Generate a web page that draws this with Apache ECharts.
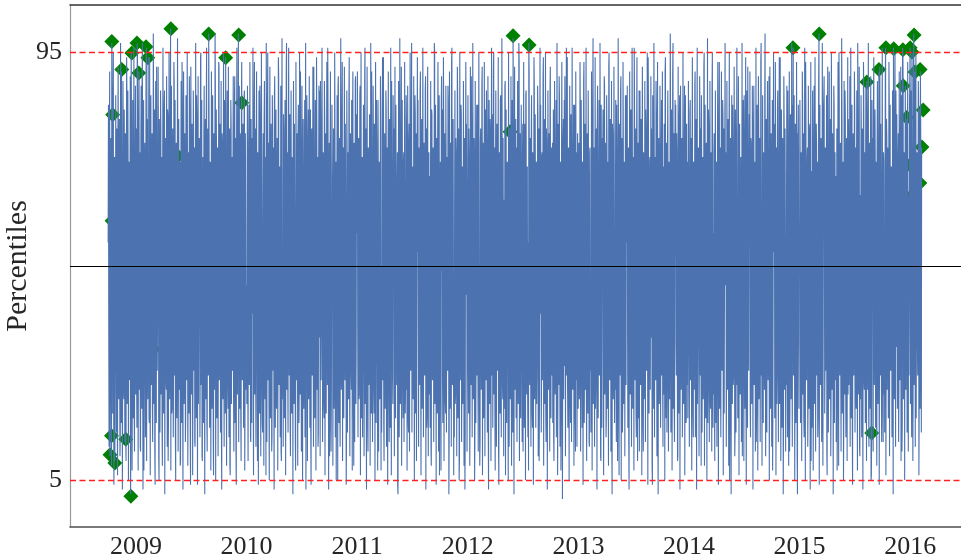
<!DOCTYPE html>
<html>
<head>
<meta charset="utf-8">
<script src="https://cdn.jsdelivr.net/npm/echarts@6/dist/echarts.min.js"></script>
<style>
  html, body { margin: 0; padding: 0; background: #ffffff; }
  #chart { width: 961px; height: 557px; }
</style>
</head>
<body>
<div id="chart"></div>
<script>
// Daily percentile readings. Each yearly block is stored as two interleaved
// sequences: "A" holds days 0, 2, 4, ... of the block, "B" holds days 1, 3, 5, ...

const pct2008A = [55, 38, 71, 10, 44, 30, 97, 82, 60, 25, 47, 9, 36, 68, 52, 19, 74, 41, 63, 28,
  15, 57, 91, 49, 33, 72, 22, 66, 40, 14, 58, 85, 35, 70, 45, 26, 61, 2, 95, 50,
  31, 78, 43, 18, 64, 88];
const pct2008B = [84, 12, 91, 25, 77, 8, 88, 19, 95, 4, 73, 27, 86, 15, 79, 6, 92, 22, 81, 10,
  97, 17, 75, 3, 89, 24, 83, 13, 78, 9, 94, 21, 87, 5, 72, 26, 90, 14, 80, 7,
  85, 18, 96, 11, 76, 23];

const pct2009A = [48, 27, 97, 63, 35, 91, 54, 12, 76, 42, 88, 31, 59, 7, 69, 44, 23, 96, 81, 38,
  94, 52, 17, 38, 73, 46, 61, 20, 33, 85, 57, 11, 66, 40, 92, 28, 50, 74, 5, 62,
  36, 79, 45, 16, 70, 53, 29, 87, 41, 64, 24, 58, 83, 9, 47, 71, 34, 100, 60, 19,
  67, 43, 30, 89, 55, 14, 72, 37, 49, 73, 26, 81, 51, 8, 65, 39, 93, 22, 56, 75,
  32, 60, 18, 84, 46, 68, 25, 53, 90, 37, 4, 70, 44, 62, 27, 79, 50, 13, 66, 35,
  86, 42, 57, 21, 74, 48, 31, 95, 61, 10, 54, 39, 77, 28, 65, 45, 82, 17, 58, 34,
  99, 56, 23, 69, 40, 76, 30, 52, 6, 63, 47, 88, 36, 71, 19, 58, 43, 92, 26, 67,
  51, 15, 78, 38, 60, 33, 85, 47, 94, 29, 55, 72, 20, 41, 64, 8, 57, 80, 35, 49,
  68, 24, 53, 90, 39, 12, 74, 45, 61, 99, 32, 56, 78, 18, 84, 50, 27, 66, 43, 87,
  22, 59, 37];
const pct2009B = [79, 16, 93, 7, 82, 24, 74, 11, 88, 20, 97, 3, 85, 27, 76, 14, 91, 9, 80, 22,
  72, 18, 94, 6, 86, 25, 78, 13, 99, 21, 83, 4, 89, 17, 75, 28, 92, 10, 81, 15,
  87, 23, 73, 8, 96, 19, 84, 2, 77, 26, 90, 12, 82, 16, 95, 22, 74, 7, 88, 20,
  79, 14, 93, 27, 85, 5, 76, 18, 98, 11, 81, 24, 72, 9, 89, 17, 84, 3, 91, 21,
  78, 13, 86, 26, 95, 8, 74, 19, 83, 15, 92, 23, 80, 6, 87, 28, 75, 12, 97, 18,
  82, 4, 90, 21, 77, 14, 94, 25, 85, 9, 73, 17, 88, 2, 81, 22, 96, 11, 79, 27,
  84, 16, 72, 7, 91, 20, 86, 13, 78, 24, 99, 5, 83, 18, 75, 10, 93, 26, 80, 15,
  89, 3, 76, 22, 95, 12, 82, 19, 74, 8, 87, 25, 92, 14, 79, 6, 85, 21, 73, 28,
  90, 11, 84, 17, 77, 4, 96, 23, 81, 13, 88, 20, 75, 9, 93, 26, 80, 16, 86, 7,
  78, 24];

const pct2010A = [46, 71, 29, 58, 84, 35, 62, 13, 49, 77, 40, 24, 67, 93, 52, 31, 74, 56, 9, 43,
  65, 38, 88, 27, 54, 72, 17, 60, 45, 81, 33, 51, 6, 69, 41, 95, 58, 22, 76, 36,
  63, 48, 14, 79, 55, 30, 86, 42, 67, 21, 53, 73, 37, 90, 26, 61, 44, 11, 70, 50,
  34, 82, 57, 19, 66, 47, 97, 39, 28, 74, 52, 63, 16, 45, 87, 32, 59, 71, 24, 80,
  43, 7, 62, 54, 36, 78, 49, 25, 68, 91, 40, 57, 20, 73, 46, 30, 85, 61, 3, 55,
  69, 38, 83, 27, 50, 64, 15, 75, 44, 59, 33, 92, 48, 22, 66, 41, 79, 53, 12, 70,
  35, 58, 89, 26, 47, 72, 39, 63, 18, 81, 52, 29, 67, 45, 96, 37, 60, 10, 74, 49,
  23, 84, 56, 41, 68, 31, 77, 53, 5, 62, 44, 88, 36, 57, 20, 71, 48, 33, 93, 60,
  27, 65, 42, 80, 51, 14, 73, 38, 59, 86, 30, 47, 69, 24, 55, 78, 40, 8, 64, 46,
  90, 34, 57];
const pct2010B = [21, 88, 9, 76, 25, 93, 14, 81, 17, 72, 96, 6, 85, 23, 79, 12, 91, 27, 74, 4,
  87, 19, 82, 10, 95, 24, 15, 78, 8, 89, 22, 73, 97, 13, 84, 26, 76, 5, 92, 18,
  80, 11, 86, 28, 75, 3, 90, 16, 83, 20, 77, 7, 94, 25, 71, 14, 88, 9, 98, 22,
  12, 79, 18, 85, 6, 91, 24, 74, 15, 96, 27, 82, 10, 87, 19, 73, 2, 89, 21, 80,
  13, 93, 26, 78, 8, 84, 17, 95, 23, 76, 11, 88, 5, 81, 20, 72, 14, 97, 25, 86,
  9, 75, 22, 90, 16, 83, 4, 79, 27, 92, 12, 77, 18, 85, 7, 94, 24, 73, 15, 88,
  87, 10, 81, 26, 96, 13, 74, 21, 89, 6, 78, 19, 93, 25, 82, 3, 76, 16, 91, 11,
  23, 84, 8, 79, 20, 95, 14, 72, 27, 86, 5, 90, 17, 77, 12, 98, 24, 83, 9, 75,
  18, 92, 26, 80, 4, 87, 15, 74, 22, 94, 10, 78, 28, 85, 7, 91, 19, 76, 13, 89,
  21, 82];

const pct2011A = [61, 37, 75, 22, 53, 88, 44, 30, 67, 14, 58, 81, 39, 96, 49, 26, 72, 55, 11, 63,
  42, 79, 33, 57, 91, 28, 48, 70, 19, 64, 52, 36, 85, 45, 7, 69, 40, 59, 24, 77,
  50, 32, 94, 61, 17, 46, 73, 38, 83, 55, 27, 66, 43, 13, 78, 52, 35, 89, 60, 21,
  71, 47, 58, 31, 84, 40, 65, 4, 54, 76, 29, 62, 45, 92, 36, 57, 18, 74, 49, 68,
  25, 86, 51, 39, 63, 15, 80, 44, 56, 33, 97, 48, 70, 23, 60, 41, 82, 30, 9, 66,
  53, 37, 75, 46, 87, 28, 59, 72, 20, 64, 43, 55, 34, 90, 50, 16, 78, 39, 61, 26,
  69, 47, 12, 83, 57, 35, 73, 42, 95, 30, 62, 51, 22, 76, 44, 67, 6, 58, 37, 85,
  49, 27, 64, 80, 40, 56, 19, 71, 45, 33, 88, 53, 14, 68, 38, 60, 93, 29, 74, 48,
  36, 63, 21, 77, 54, 42, 86, 31, 59, 10, 70, 46, 82, 25, 57, 39, 67, 52, 3, 73,
  44, 61];
const pct2011B = [91, 14, 77, 23, 86, 6, 95, 18, 73, 27, 84, 10, 89, 21, 79, 3, 92, 16, 75, 25,
  82, 8, 97, 19, 74, 13, 88, 24, 80, 5, 93, 17, 76, 28, 85, 11, 72, 22, 90, 7,
  15, 83, 26, 94, 9, 78, 20, 87, 12, 75, 4, 91, 23, 81, 16, 96, 6, 73, 27, 86,
  79, 10, 92, 18, 84, 25, 74, 2, 89, 14, 98, 21, 77, 8, 85, 26, 72, 13, 93, 19,
  24, 80, 7, 88, 17, 76, 11, 95, 28, 83, 15, 71, 22, 90, 5, 86, 19, 78, 9, 94,
  85, 12, 73, 25, 91, 6, 81, 20, 96, 14, 76, 27, 87, 3, 79, 18, 92, 10, 74, 23,
  16, 89, 8, 82, 26, 75, 13, 97, 21, 84, 4, 77, 19, 93, 11, 86, 24, 72, 7, 90,
  83, 17, 94, 9, 78, 22, 88, 15, 73, 28, 85, 2, 91, 20, 76, 12, 96, 25, 81, 6,
  14, 87, 23, 74, 10, 92, 18, 79, 5, 95, 26, 84, 13, 71, 21, 89, 8, 77, 16, 93,
  80, 11];

const pct2012A = [58, 33, 79, 46, 21, 67, 90, 41, 55, 28, 72, 48, 15, 63, 37, 84, 52, 26, 69, 44,
  8, 76, 57, 35, 92, 49, 62, 23, 70, 40, 54, 87, 31, 65, 17, 59, 45, 81, 38, 73,
  27, 56, 42, 95, 60, 19, 68, 34, 51, 78, 43, 12, 66, 47, 85, 30, 58, 74, 22, 50,
  64, 36, 89, 53, 29, 71, 46, 5, 61, 39, 78, 48, 25, 57, 83, 98, 41, 67, 32, 54,
  18, 75, 44, 60, 37, 93, 52, 27, 69, 45, 13, 80, 56, 34, 72, 48, 86, 39, 62, 24,
  55, 97, 41, 66, 30, 77, 50, 16, 63, 43, 88, 35, 58, 71, 21, 47, 82, 54, 9, 68,
  40, 59, 26, 74, 51, 94, 36, 65, 46, 19, 79, 55, 31, 70, 42, 61, 87, 28, 53, 38,
  76, 47, 14, 64, 57, 33, 85, 45, 69, 22, 52, 90, 39, 60, 7, 73, 48, 35, 81, 56,
  29, 67, 43, 96, 54, 24, 71, 50, 37, 62, 17, 78, 46, 58, 32, 84, 41, 65, 11, 57,
  74, 38, 49];
const pct2012B = [86, 19, 74, 8, 92, 25, 81, 14, 97, 22, 77, 5, 89, 17, 72, 27, 84, 11, 95, 20,
  13, 79, 24, 88, 6, 76, 18, 93, 10, 83, 26, 73, 15, 90, 3, 85, 21, 78, 9, 96,
  82, 16, 91, 23, 75, 7, 87, 12, 80, 28, 94, 4, 74, 19, 86, 14, 98, 25, 77, 10,
  20, 88, 6, 83, 17, 72, 27, 95, 12, 79, 22, 90, 8, 85, 15, 76, 2, 92, 24, 81,
  75, 13, 89, 21, 97, 9, 78, 18, 84, 26, 73, 11, 93, 16, 80, 5, 87, 23, 71, 14,
  7, 91, 25, 77, 12, 86, 19, 74, 4, 94, 22, 82, 16, 72, 28, 88, 10, 79, 20, 96,
  84, 15, 73, 26, 90, 8, 81, 21, 95, 13, 76, 3, 87, 24, 78, 11, 92, 18, 75, 27,
  17, 83, 9, 89, 23, 74, 14, 97, 6, 80, 25, 86, 12, 72, 19, 93, 1, 77, 22, 85,
  90, 10, 79, 27, 94, 16, 75, 5, 88, 21, 82, 13, 96, 24, 73, 8, 84, 18, 91, 26,
  12, 78, 20];

const pct2013A = [63, 28, 54, 81, 40, 69, 16, 57, 45, 93, 34, 72, 50, 23, 66, 38, 87, 59, 12, 75,
  47, 31, 64, 55, 98, 36, 70, 43, 20, 61, 52, 79, 26, 48, 85, 39, 67, 9, 58, 44,
  73, 30, 56, 88, 41, 62, 18, 77, 49, 35, 92, 54, 27, 68, 46, 14, 80, 57, 33, 71,
  42, 60, 25, 84, 51, 38, 74, 6, 65, 47, 90, 32, 58, 21, 76, 44, 63, 53, 29, 86,
  55, 37, 69, 13, 61, 45, 82, 34, 57, 72, 24, 50, 96, 40, 66, 19, 78, 48, 31, 59,
  87, 43, 64, 27, 53, 75, 36, 11, 70, 46, 58, 83, 30, 62, 41, 94, 22, 56, 73, 49,
  35, 68, 4, 60, 44, 79, 52, 28, 89, 39, 65, 17, 57, 74, 42, 50, 33, 85, 61, 23,
  71, 48, 56, 91, 37, 63, 15, 76, 45, 30, 67, 53, 81, 26, 59, 40, 97, 47, 20, 64,
  52, 34, 78, 43, 10, 69, 55, 86, 38, 61, 24, 73, 49, 57, 32, 88, 44, 66, 18, 54,
  72, 41];
const pct2013B = [76, 22, 93, 11, 85, 26, 72, 4, 89, 17, 80, 24, 96, 9, 78, 19, 87, 13, 74, 28,
  15, 91, 7, 82, 21, 75, 12, 94, 25, 79, 3, 88, 18, 73, 27, 97, 10, 84, 16, 77,
  83, 6, 90, 23, 76, 14, 86, 20, 72, 8, 95, 26, 81, 11, 89, 2, 78, 22, 92, 17,
  24, 85, 13, 74, 9, 98, 19, 80, 27, 87, 5, 77, 15, 93, 21, 72, 10, 86, 25, 79,
  88, 16, 75, 3, 91, 23, 83, 12, 96, 20, 73, 7, 85, 26, 79, 14, 94, 9, 76, 18,
  11, 87, 25, 81, 6, 92, 17, 74, 22, 89, 13, 78, 28, 95, 4, 84, 19, 72, 24, 90,
  79, 8, 86, 20, 97, 14, 73, 26, 82, 10, 93, 2, 77, 21, 88, 16, 75, 27, 91, 12,
  23, 80, 5, 94, 18, 76, 25, 87, 11, 72, 22, 99, 15, 83, 7, 90, 20, 78, 13, 85,
  84, 27, 74, 9, 92, 19, 81, 3, 88, 24, 77, 14, 95, 21, 73, 6, 86, 17, 80, 25,
  18, 89];

const pct2014A = [39, 62, 85, 47, 26, 70, 53, 14, 66, 42, 91, 35, 58, 77, 21, 49, 63, 31, 80, 55,
  8, 67, 44, 59, 36, 95, 51, 24, 73, 46, 61, 17, 83, 40, 55, 29, 69, 48, 87, 33,
  57, 74, 22, 64, 43, 52, 12, 78, 38, 60, 93, 45, 27, 68, 50, 34, 82, 56, 19, 71,
  46, 63, 30, 89, 54, 41, 75, 5, 58, 37, 67, 49, 84, 25, 62, 44, 15, 72, 53, 96,
  36, 60, 47, 79, 28, 56, 70, 42, 10, 65, 51, 86, 33, 59, 23, 74, 45, 92, 38, 63,
  54, 20, 77, 48, 35, 69, 57, 88, 31, 61, 43, 13, 76, 50, 40, 81, 27, 66, 52, 97,
  39, 58, 24, 72, 45, 85, 34, 62, 16, 70, 49, 55, 90, 37, 64, 29, 78, 43, 7, 60,
  53, 75, 32, 67, 47, 21, 83, 56, 41, 94, 36, 59, 26, 71, 50, 63, 18, 80, 44, 57,
  30, 68, 52, 87, 38, 61, 11, 74, 46, 58, 33, 84, 96, 42, 55, 27, 70, 49, 64, 2,
  76, 35, 59];
const pct2014B = [12, 83, 26, 77, 7, 94, 19, 72, 24, 88, 14, 81, 3, 96, 21, 75, 10, 90, 27, 79,
  86, 15, 73, 22, 92, 8, 84, 18, 76, 5, 98, 25, 80, 13, 89, 20, 74, 11, 95, 16,
  23, 78, 9, 87, 17, 72, 26, 93, 4, 82, 20, 75, 14, 91, 28, 85, 6, 79, 19, 97,
  74, 12, 89, 24, 81, 8, 95, 17, 77, 2, 86, 21, 72, 27, 92, 10, 83, 15, 76, 25,
  18, 90, 6, 80, 23, 73, 13, 97, 26, 85, 9, 78, 20, 94, 4, 87, 16, 75, 28, 82,
  91, 14, 76, 21, 88, 3, 79, 25, 72, 11, 96, 19, 84, 7, 90, 22, 77, 13, 93, 27,
  8, 86, 17, 74, 24, 99, 10, 81, 15, 89, 26, 73, 5, 92, 20, 78, 12, 85, 23, 95,
  80, 18, 93, 6, 75, 27, 87, 13, 71, 21, 94, 9, 83, 16, 77, 2, 90, 24, 79, 11,
  25, 88, 14, 76, 8, 91, 19, 82, 22, 97, 12, 74, 27, 86, 5, 80, 17, 93, 10, 78,
  84, 20];

const pct2015A = [48, 71, 26, 63, 40, 85, 55, 18, 67, 44, 93, 32, 59, 75, 21, 52, 38, 80, 61, 9,
  70, 46, 57, 29, 88, 42, 65, 35, 76, 50, 14, 62, 99, 45, 37, 73, 54, 24, 68, 41,
  86, 58, 30, 66, 47, 11, 79, 53, 36, 91, 43, 60, 22, 74, 49, 64, 33, 84, 56, 27,
  69, 45, 7, 61, 52, 95, 38, 72, 28, 57, 81, 41, 63, 19, 50, 87, 34, 66, 47, 59,
  23, 77, 44, 90, 55, 31, 68, 16, 73, 51, 39, 83, 60, 26, 70, 46, 97, 36, 58, 12,
  65, 49, 78, 33, 56, 42, 86, 24, 62, 71, 37, 89, 45, 54, 20, 67, 40, 75, 5, 15,
  60, 43, 82, 30, 57, 69, 48, 22, 74, 38, 63, 91, 35, 55, 80, 27, 66, 50, 13, 72,
  46, 59, 96, 34, 77, 41, 64, 19, 85, 52, 37, 53, 70, 44, 61, 96, 28, 73, 50, 87,
  33, 62, 45, 78, 24, 58, 40, 92, 67, 11, 96, 88, 36, 69, 47, 74, 54, 81, 71, 30,
  65, 42];
const pct2015B = [85, 17, 74, 9, 91, 23, 78, 14, 96, 5, 82, 26, 73, 12, 88, 20, 79, 3, 93, 24,
  16, 87, 7, 76, 21, 94, 11, 80, 27, 72, 18, 89, 4, 84, 25, 77, 13, 97, 8, 83,
  90, 19, 75, 28, 86, 6, 92, 15, 73, 22, 81, 10, 95, 24, 78, 2, 88, 17, 74, 26,
  13, 79, 21, 93, 8, 85, 27, 76, 11, 98, 19, 72, 5, 89, 23, 82, 14, 77, 9, 94,
  81, 25, 72, 12, 96, 18, 84, 4, 78, 27, 91, 15, 75, 20, 87, 7, 80, 23, 92, 10,
  22, 86, 14, 79, 3, 93, 26, 74, 17, 88, 9, 82, 24, 97, 12, 76, 20, 90, 6, 85,
  77, 11, 94, 25, 83, 16, 72, 8, 89, 21, 78, 4, 92, 27, 80, 13, 96, 19, 74, 23,
  15, 90, 6, 81, 24, 75, 18, 93, 10, 84, 28, 71, 14, 87, 2, 79, 22, 95, 12, 76,
  82, 20, 73, 13, 91, 26, 78, 9, 86, 17, 95, 22, 74, 5, 88, 24, 80, 15, 93, 11,
  27, 84];

const pct2016A = [96, 65, 38, 95, 52, 27, 99, 44, 91, 60, 18, 73, 35, 57, 84, 23, 67, 91, 48, 75];
const pct2016B = [21, 87, 14, 76, 9, 92, 25, 80, 12, 95, 18, 74, 27, 89, 6, 83, 20, 78, 15];

// First day of each yearly block
const blockStarts = ['2008-10-01', '2009-01-01', '2010-01-01', '2011-01-01', '2012-01-01',
  '2013-01-01', '2014-01-01', '2015-01-01', '2016-01-01'];
const blockEven = [pct2008A, pct2009A, pct2010A, pct2011A, pct2012A, pct2013A, pct2014A, pct2015A, pct2016A];
const blockOdd = [pct2008B, pct2009B, pct2010B, pct2011B, pct2012B, pct2013B, pct2014B, pct2015B, pct2016B];

// Flagged days, drawn as diamonds
const eventDates = ['2008-10-13', '2008-10-16', '2008-10-14', '2008-10-12', '2008-10-07', '2008-10-23',
  '2008-11-15', '2008-11-28', '2008-12-15', '2008-12-18', '2009-01-04', '2009-01-10',
  '2009-02-03', '2009-02-09', '2009-02-16', '2009-02-26', '2009-04-26', '2009-05-19',
  '2009-08-29', '2009-10-24', '2009-12-06', '2009-12-16', '2012-05-20', '2012-05-30',
  '2012-07-22', '2014-12-10', '2015-03-07', '2015-08-11', '2015-08-14', '2015-08-27',
  '2015-09-20', '2015-10-13', '2015-10-29', '2015-11-08', '2015-12-08', '2015-12-09',
  '2015-12-21', '2015-12-22', '2016-01-01', '2016-01-02', '2016-01-07', '2016-01-14',
  '2016-01-17', '2016-02-02', '2016-02-03', '2016-02-09', '2016-02-13'];
const eventValues = [97.3, 81.9, 59.6, 14.3, 10.3, 8.6,
  91.4, 13.6, 1.6, 94.9, 97.0, 90.7,
  96.2, 93.9, 38.3, 32.6, 100.0, 73.2,
  98.9, 93.9, 98.7, 84.4, 78.3, 98.5,
  96.6, 96.0, 98.9, 88.8, 45.2, 14.9,
  91.4, 96.0, 53.4, 95.8, 95.6, 88.0,
  81.3, 71.3, 96.0, 64.6, 95.1, 98.7,
  90.9, 67.5, 91.4, 75.1, 82.9];

// Reference levels
const upperLevel = 95;
const lowerLevel = 5;
const midLevel = 50;
const yTickValues = [5, 95];

const DAY = 86400000;
const toUTC = s => { const p = s.split('-').map(Number); return Date.UTC(p[0], p[1] - 1, p[2]); };

// Rebuild the daily sequence of each block from its two interleaved halves
const lineData = [];
blockStarts.forEach((start, b) => {
  const t0 = toUTC(start);
  const even = blockEven[b], odd = blockOdd[b];
  const n = even.length + Math.min(odd.length, even.length);
  for (let d = 0; d < n; d++) {
    const v = d % 2 === 0 ? even[d / 2] : odd[(d - 1) / 2];
    lineData.push([t0 + d * DAY, v]);
  }
});
const eventData = eventDates.map((d, i) => [toUTC(d), eventValues[i]]);

const serif = '"Liberation Serif", "DejaVu Serif", serif';
const xMin = Date.UTC(2008, 4, 28);
const xMax = Date.UTC(2016, 6, 20);

const chart = echarts.init(document.getElementById('chart'), null, { renderer: 'canvas' });
chart.setOption({
  animation: false,
  backgroundColor: '#ffffff',
  grid: { left: 70, right: -10, top: 5, bottom: 30, containLabel: false, outerBoundsMode: 'none' },
  xAxis: [{
    type: 'time',
    min: xMin,
    max: xMax,
    splitNumber: 9,
    minInterval: 365 * DAY,
    maxInterval: 366 * DAY,
    axisLine: { show: true, onZero: false, lineStyle: { color: '#4d4d4d', width: 1.5 } },
    axisTick: { show: false },
    splitLine: { show: false },
    axisLabel: {
      show: true,
      showMinLabel: false,
      showMaxLabel: false,
      margin: 7,
      color: '#262626',
      fontFamily: serif,
      fontSize: 26,
      formatter: v => String(new Date(v).getUTCFullYear())
    }
  }, {
    type: 'time',
    position: 'top',
    min: xMin,
    max: xMax,
    axisLine: { show: true, onZero: false, lineStyle: { color: '#333333', width: 1.5 } },
    axisTick: { show: false },
    axisLabel: { show: false },
    splitLine: { show: false }
  }],
  yAxis: {
    type: 'value',
    min: -4.9,
    max: 105,
    name: 'Percentiles',
    nameLocation: 'middle',
    nameRotate: 90,
    nameGap: 37,
    nameMoveOverlap: false,
    nameTextStyle: { color: '#262626', fontFamily: serif, fontSize: 30 },
    axisLine: { show: true, onZero: false, lineStyle: { color: '#999999', width: 1.2 } },
    axisTick: { show: false },
    splitLine: { show: false },
    axisLabel: {
      customValues: yTickValues,
      margin: 8,
      color: '#262626',
      fontFamily: serif,
      fontSize: 26
    }
  },
  series: [{
    name: 'flagged',
    type: 'scatter',
    z: 1,
    data: eventData,
    symbol: 'diamond',
    symbolSize: 15,
    itemStyle: { color: '#008000', opacity: 1 }
  }, {
    name: 'percentile',
    type: 'line',
    z: 2,
    data: lineData,
    showSymbol: false,
    sampling: null,
    lineStyle: { color: '#4c72b0', width: 1.1 },
    markLine: {
      silent: true,
      symbol: 'none',
      label: { show: false },
      animation: false,
      data: [
        { yAxis: upperLevel, lineStyle: { color: '#ff2020', type: [6, 3.5], width: 1.4 } },
        { yAxis: lowerLevel, lineStyle: { color: '#ff2020', type: [6, 3.5], width: 1.4 } },
        { yAxis: midLevel, lineStyle: { color: '#000000', type: 'solid', width: 1.2 } }
      ]
    }
  }]
});
</script>
</body>
</html>
